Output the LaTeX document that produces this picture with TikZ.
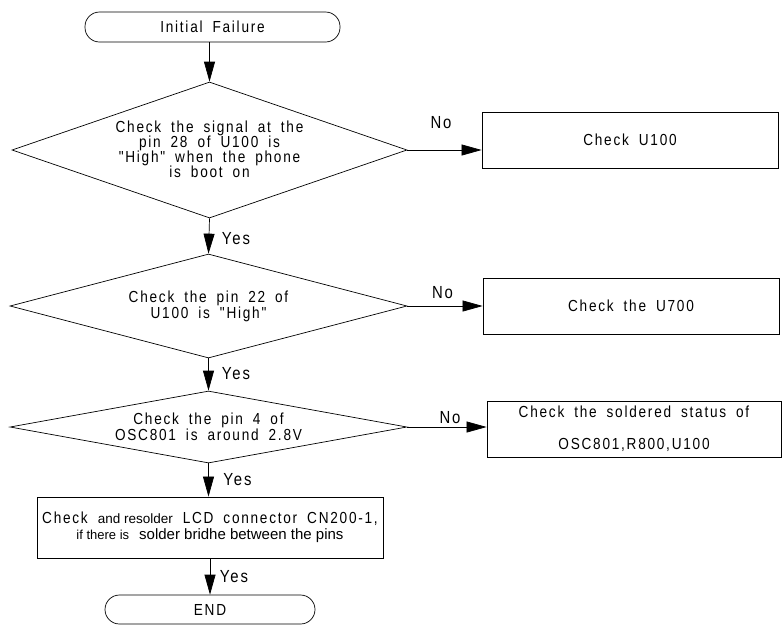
\documentclass[tikz,border=0pt]{standalone}
\usepackage{fontspec}
\setmainfont{Liberation Sans}[LetterSpace=11, WordSpace=1.8, FakeStretch=0.85, Ligatures=TeXOff]
\newfontfamily\plainsans{Liberation Sans}[Ligatures=TeXOff]
\usetikzlibrary{shapes.geometric,arrows.meta}
\begin{document}
\begin{tikzpicture}[x=1pt,y=-1pt,
  txt/.style={font=\fontsize{16}{15}\selectfont, align=center, inner sep=0pt},
  dia/.style={draw, diamond, inner sep=0pt, line width=0.7pt},
  box/.style={draw, rectangle, inner sep=0pt, line width=0.8pt, txt},
  term/.style={draw, rectangle, rounded corners=14.5pt, inner sep=0pt, line width=0.7pt, txt},
  arr/.style={-{Triangle[length=20pt,width=11pt]}, line width=0.7pt},
  lab/.style={font=\fontsize{17.5}{18}\selectfont, inner sep=0pt}]
\fill[white] (0,0) rectangle (783,625);
\useasboundingbox (0,0) rectangle (783,625);

\node[term, minimum width=255pt, minimum height=30pt] (start) at (212.5,27) {Initial Failure};

\node[dia, minimum width=395pt, minimum height=136pt] (d1) at (209.5,150) {};
\node[txt] (t1) at (209.5,149.5) {Check the signal at the\\pin 28 of U100 is\\"High" when the phone\\is boot on};
\node[box, minimum width=296pt, minimum height=56pt] (b1) at (630,140) {Check U100};

\node[dia, minimum width=397pt, minimum height=104pt] (d2) at (208.5,306) {};
\node[txt, font=\fontsize{16}{16}\selectfont] (t2) at (208.5,306) {Check the pin 22 of\\U100 is "High"};
\node[box, minimum width=296pt, minimum height=56pt] (b2) at (631,306) {Check the U700};

\node[dia, minimum width=397pt, minimum height=72pt] (d3) at (208.5,427) {};
\node[txt, font=\fontsize{16}{16}\selectfont] (t3) at (208.5,427) {Check the pin 4 of\\OSC801 is around 2.8V};
\node[box, minimum width=294pt, minimum height=56pt, font=\fontsize{16}{32}\selectfont] (b3) at (634,429) {Check the soldered status of\\OSC801,R800,U100};

\node[box, minimum width=346pt, minimum height=61pt, font=\fontsize{16}{16}\selectfont] (b4) at (210,527.5)
  {Check {\plainsans\fontsize{13.5}{16}\selectfont and resolder} LCD connector CN200-1,\\
   {\plainsans\fontsize{13}{16}\selectfont if there is} {\plainsans\fontsize{15}{16}\selectfont solder bridhe between the pins}};

\node[term, minimum width=210pt, minimum height=29pt] (end) at (210,609.5) {END};

\draw[arr] (start.south -| d1.north) -- (d1.north);
\draw[arr] (d1.east) -- (d1.east -| b1.west);
\draw[arr] (d1.south) -- (d2.north);
\draw[arr] (d2.east) -- (d2.east -| b2.west);
\draw[arr] (d2.south) -- (d3.north);
\draw[arr] (d3.east) -- (d3.east -| b3.west);
\draw[arr] (d3.south) -- (d3.south |- b4.north);
\draw[arr] (b4.south -| end.north) -- (end.north);

\node[lab] (no1) at (441,123) {No};
\node[lab] (no2) at (442.5,293) {No};
\node[lab] (no3) at (450,418) {No};
\node[lab] (yes1) at (236,239) {Yes};
\node[lab] (yes2) at (236,374) {Yes};
\node[lab] (yes3) at (237.5,480) {Yes};
\node[lab] (yes4) at (234,577) {Yes};
\end{tikzpicture}
\end{document}
